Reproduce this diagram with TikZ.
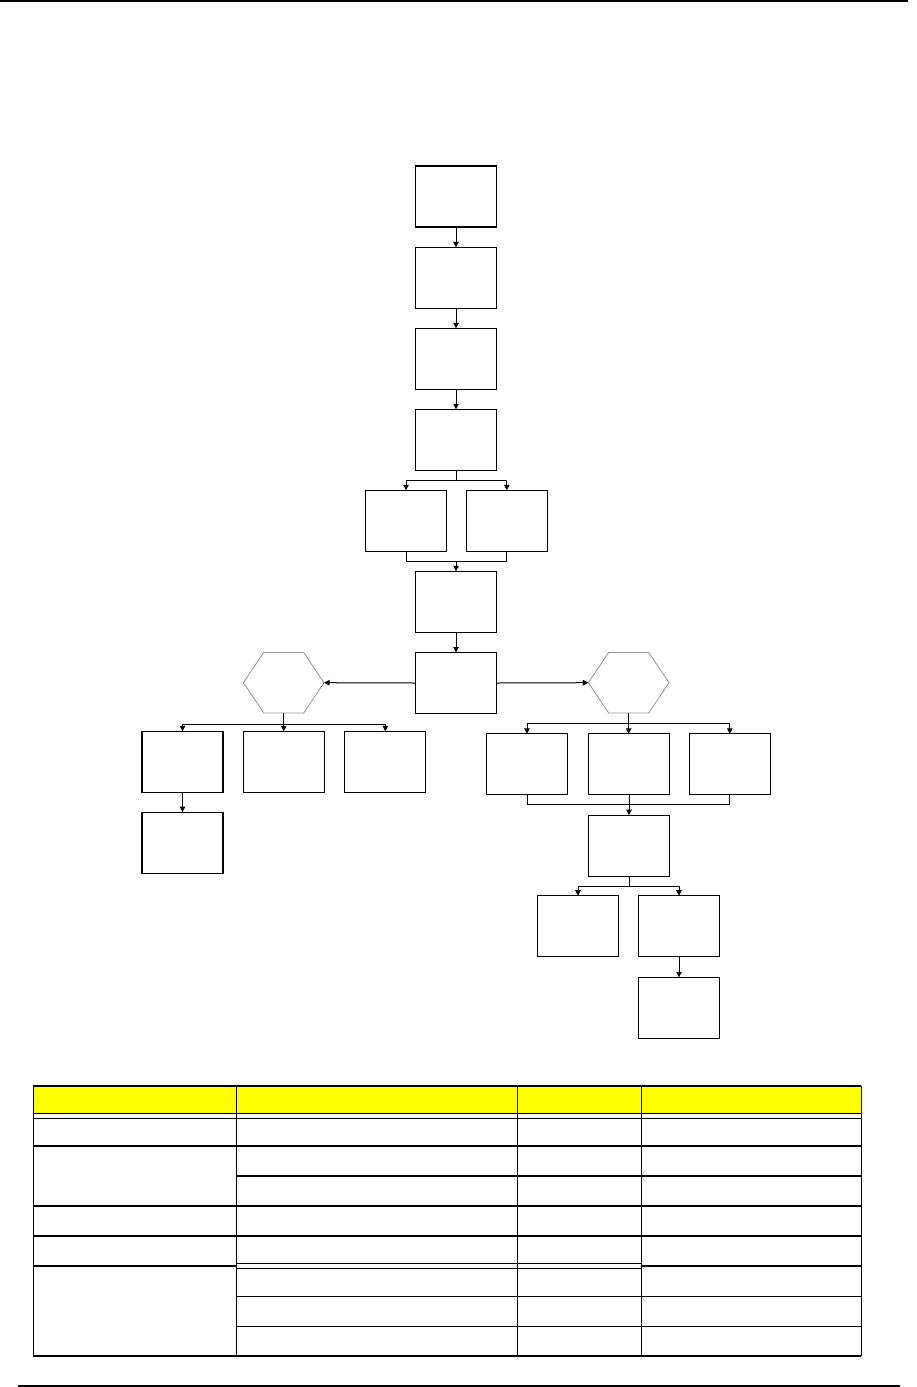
\documentclass[tikz,border=0pt]{standalone}
\usetikzlibrary{arrows.meta,calc}
\definecolor{hdryellow}{RGB}{255,255,0}
\begin{document}
\begin{tikzpicture}[x=1pt,y=-1pt,
  box/.style={draw=black,line width=1.1pt,minimum width=81pt,minimum height=61pt,inner sep=0pt,outer sep=0pt,fill=white},
  hexframe/.style={draw=none,minimum width=80.6pt,minimum height=60.6pt,inner sep=0pt,outer sep=0pt},
  hexline/.style={draw=gray!85,line width=0.8pt},
  conn/.style={draw=black,line width=1pt},
  arr/.style={conn,-{Triangle[length=5.5pt,width=5.5pt]}},
  tline/.style={draw=black,line width=1.4pt},
  pageline/.style={draw=black,line width=1.5pt}]
\useasboundingbox (0,0) rectangle (916,1387);
% page rules
\coordinate (tl) at (0,0.75);
\coordinate (tr) at (908,0.75);
\draw[pageline] (tl) -- (tr);
\coordinate (bl) at (18,1386);
\coordinate (br) at (900,1386);
\draw[pageline] (bl) -- (br);
% main column
\node[box] (B1) at (456,196.5) {};
\node[box] (B2) at (456,277.8) {};
\node[box] (B3) at (456,358.8) {};
\node[box] (B4) at (456,439.8) {};
\node[box] (B5a) at (406,520.8) {};
\node[box] (B5b) at (506.8,520.8) {};
\node[box] (B6) at (456,601.8) {};
\node[box] (B7) at (456,683) {};
% hexagons
\node[hexframe] (HL) at (283.7,682.7) {};
\node[hexframe] (HR) at (628.7,682.7) {};
\foreach \h in {HL,HR}{
  \draw[hexline] ($(\h.north)+(-20,0)$) -- ($(\h.north)+(20,0)$) -- (\h.east)
    -- ($(\h.south)+(20,0)$) -- ($(\h.south)+(-20,0)$) -- (\h.west) -- cycle;
}
% left branch
\node[box] (L1) at (182.5,761.8) {};
\node[box] (L2) at (283.8,761.8) {};
\node[box] (L3) at (385.3,761.8) {};
\node[box] (L4) at (182.5,842.6) {};
% right branch
\node[box] (R1) at (527,764.3) {};
\node[box] (R2) at (629,764.3) {};
\node[box] (R3) at (729.8,764.3) {};
\node[box] (R4) at (629,845.6) {};
\node[box] (R5) at (578,926.2) {};
\node[box] (R6) at (679,926.2) {};
\node[box] (R7) at (679,1007.8) {};
% connectors main
\draw[arr] (B1.south) -- (B2.north);
\draw[arr] (B2.south) -- (B3.north);
\draw[arr] (B3.south) -- (B4.north);
\coordinate (s4) at (456,480);
\draw[conn] (B4.south) -- (s4);
\draw[arr] (s4) -| (B5a.north);
\draw[arr] (s4) -| (B5b.north);
\coordinate (m5) at (456,561.3);
\draw[conn] (B5a.south) |- (m5);
\draw[conn] (B5b.south) |- (m5);
\draw[arr] (m5) -- (B6.north);
\draw[arr] (B6.south) -- (B7.north);
\draw[arr] (B7.west) -- (HL.east);
\draw[arr] (B7.east) -- (HR.west);
% left branch connectors
\coordinate (hl) at (283.7,724);
\draw[conn] (HL.south) -- (hl);
\draw[arr] (hl) -| (L1.north);
\draw[arr] (hl) -- (L2.north -| hl);
\draw[arr] (hl) -| (L3.north);
\draw[arr] (L1.south) -- (L4.north);
% right branch connectors
\coordinate (hr) at (628.7,723.3);
\draw[conn] (HR.south) -- (hr);
\draw[arr] (hr) -| (R1.north);
\draw[arr] (hr) -- (R2.north -| hr);
\draw[arr] (hr) -| (R3.north);
\coordinate (m4) at (629,804);
\draw[conn] (R1.south) |- (m4);
\draw[conn] (R3.south) |- (m4);
\draw[arr] (R2.south) -- (R4.north);
\coordinate (s6) at (629,886);
\draw[conn] (R4.south) -- (s6);
\draw[arr] (s6) -| (R5.north);
\draw[arr] (s6) -| (R6.north);
\draw[arr] (R6.south) -- (R7.north);
% table
\fill[hdryellow] (33.3,1086) rectangle (861.3,1113.3);
\foreach \y in {1086,1113.3,1118.3,1146,1206,1236,1356}
  \draw[tline] (33.3,\y) -- (861.3,\y);
\foreach \y in {1176,1296.3,1326.3}
  \draw[tline] (236.3,\y) -- (861.3,\y);
\foreach \y in {1263.3,1268.3}
  \draw[tline] (236.3,\y) -- (641.3,\y);
\draw[tline] (33.3,1266) -- (236.3,1266);
\draw[tline] (641.3,1266) -- (861.3,1266);
\foreach \x in {33.3,236.3,517.3,641.3,861.3}
  \draw[tline] (\x,1086) -- (\x,1356);
\end{tikzpicture}
\end{document}
